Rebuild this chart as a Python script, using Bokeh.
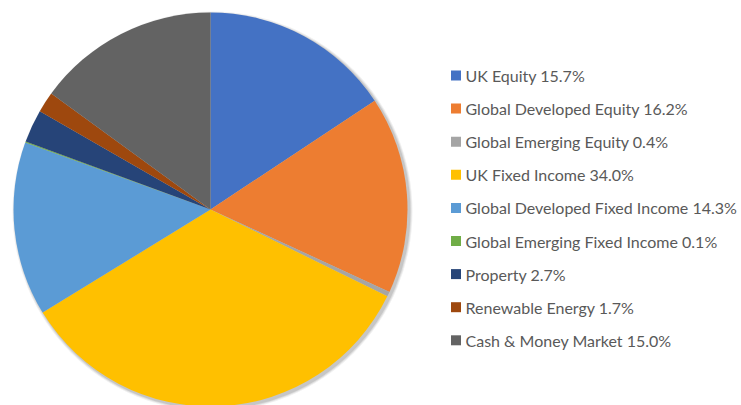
import numpy as np
from bokeh.plotting import figure
from bokeh.models import ColumnDataSource, Range1d
from bokeh.core.properties import value
from bokeh.embed import file_html
from bokeh.resources import INLINE

categories = ["UK Equity", "Global Developed Equity", "Global Emerging Equity",
              "UK Fixed Income", "Global Developed Fixed Income",
              "Global Emerging Fixed Income", "Property", "Renewable Energy",
              "Cash & Money Market"]
shares = [15.7, 16.2, 0.4, 34.0, 14.3, 0.1, 2.7, 1.7, 15.0]
colors = ["#4472C4", "#ED7D31", "#A5A5A5", "#FFC000", "#5B9BD5",
          "#70AD47", "#264478", "#9E480E", "#636363"]
labels = [f"{c} {s:.1f}%" for c, s in zip(categories, shares)]

W, H = 741, 405
p = figure(width=W, height=H, output_backend="svg", toolbar_location=None,
           x_range=Range1d(0, W), y_range=Range1d(0, H), min_border=0)
p.axis.visible = False
p.grid.visible = False
p.outline_line_color = None
p.background_fill_color = "white"

cx, cy, r = 210, H - 209, 197
total = sum(shares)
frac = np.array(shares) / total
ends = np.cumsum(frac) * 2 * np.pi
starts = np.concatenate([[0], ends[:-1]])
start_angle = np.pi / 2 - starts
end_angle = np.pi / 2 - ends

# soft shadow
for i, a in enumerate([0.06, 0.08, 0.10]):
    p.circle(x=cx + 2, y=cy - 2, radius=r + 3 - i, fill_color="black",
             fill_alpha=a, line_color=None)

src = ColumnDataSource(dict(start=start_angle, end=end_angle, color=colors))
p.wedge(x=cx, y=cy, radius=r, start_angle="start", end_angle="end",
        direction="clock", fill_color="color", line_color=None, source=src)

# legend
n = len(categories)
ly = [H - (75 + 33.1 * i) for i in range(n)]
lsrc = ColumnDataSource(dict(y=ly, color=colors, label=labels))
p.rect(x=455.5, y="y", width=10, height=10, fill_color="color",
       line_color=None, source=lsrc)
p.text(x=465, y="y", text="label", text_font=value("Lato"),
       text_font_size="16px", text_color="#595959", text_baseline="middle",
       source=lsrc)

open("out.html", "w").write(file_html(p, INLINE))
